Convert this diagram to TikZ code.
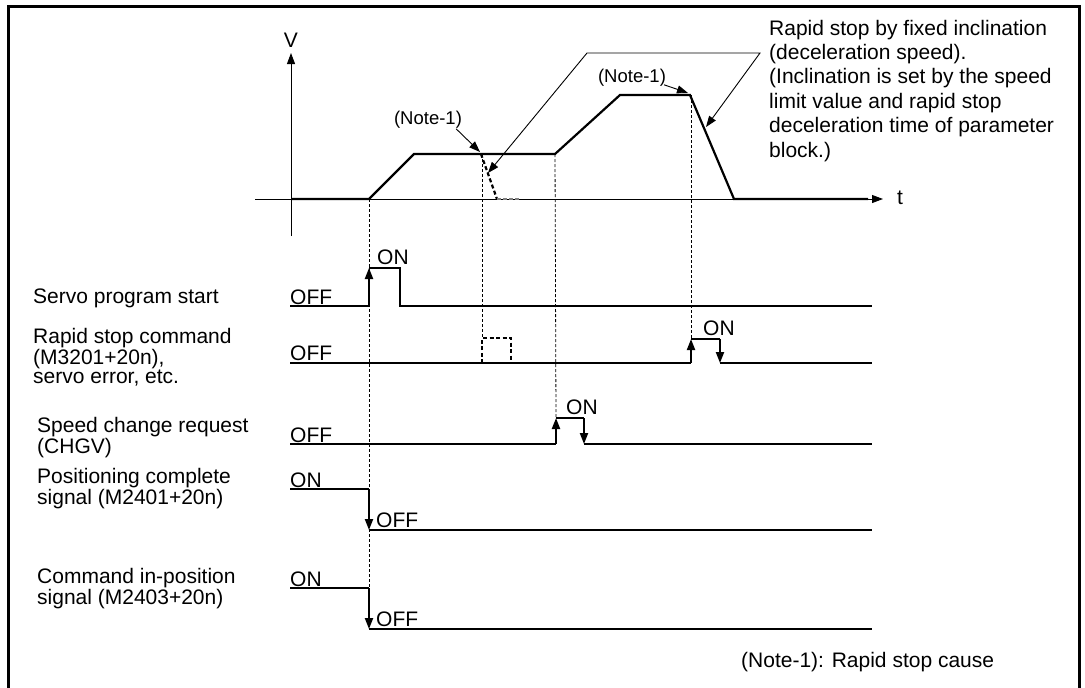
\documentclass[tikz,border=0pt]{standalone}
\usepackage{fontspec}
\setmainfont{Liberation Sans}
\usetikzlibrary{arrows.meta}
\begin{document}
\begin{tikzpicture}[x=1pt,y=-1pt,
  txt/.style={inner sep=0pt,anchor=base west,font=\fontsize{21}{19.8}\selectfont},
  para/.style={inner sep=0pt,anchor=base west,font=\fontsize{21}{24.4}\selectfont},
  note/.style={inner sep=0pt,font=\fontsize{18.5}{20}\selectfont},
  sig/.style={line width=2pt},
  thk/.style={line width=2.2pt},
  thn/.style={line width=0.9pt},
  guide/.style={line width=0.8pt,dash pattern=on 3pt off 2pt},
  tip/.style={-{Triangle[length=11pt,width=8pt]}},
  bitip/.style={{Triangle[length=11pt,width=8pt]}-{Triangle[length=11pt,width=8pt]}},
]
\useasboundingbox (0,0) rectangle (1085,688);
\draw[line width=3.5pt] (8.5,6.5) rectangle (1079.5,720);

% axes
\coordinate (vbot) at (291,236);
\coordinate (vtop) at (291,53);
\coordinate (tl) at (255,199);
\coordinate (tr) at (883,199);
\draw[thn,tip] (vbot) -- (vtop);
\draw[thn,tip] (tl) -- (tr);
\node[note,font=\fontsize{21}{20}\selectfont] (V) at (291,40) {V};
\node[note,font=\fontsize{21}{20}\selectfont] (t) at (900,198) {t};

% velocity profile
\coordinate (p0) at (291,199);
\coordinate (p1) at (369,199);
\coordinate (p2) at (414,154);
\coordinate (pn) at (481,154);
\coordinate (p3) at (555,154);
\coordinate (p4) at (620,95);
\coordinate (p5) at (690,95);
\coordinate (p6) at (734,199);
\coordinate (p7) at (868,199);
\draw[thk,line join=miter] (p0) -- (p1) -- (p2) -- (p3) -- (p4) -- (p5) -- (p6) -- (p7);
\coordinate (d1) at (497,199);
\coordinate (d2) at (519,199);
\draw[thk,dash pattern=on 4pt off 2.5pt] (pn) -- (d1);
\draw[line width=1.2pt,gray,dash pattern=on 4pt off 2pt] (d1) -- (d2);

% notes
\node[note] (n1) at (428,120) {(Note-1)};
\coordinate (n1t) at (480,152);
\draw[thn,tip] (n1.south east) ++(-6,0) -- (n1t);
\node[note] (n2) at (632,78) {(Note-1)};
\coordinate (n2t) at (688,93);
\draw[thn,tip] (n2.south east) ++(-2,-2) -- (n2t);

% callout
\coordinate (c1) at (488,173);
\coordinate (c2) at (587,53);
\coordinate (c3) at (760,53);
\coordinate (c4) at (706,127);
\draw[thn,bitip] (c1) -- (c2) -- (c3) -- (c4);
\node[para] (desc) at (769,35) {\begin{tabular}[t]{@{}l@{}}Rapid stop by fixed inclination\\(deceleration speed).\\(Inclination is set by the speed\\limit value and rapid stop\\deceleration time of parameter\\block.)\end{tabular}};

% guides
\draw[guide] (p1) -- (369,629);
\draw[guide] (482,154) -- (482,338);
\draw[guide] (p3) -- (556,418);
\draw[guide] (691,95) -- (691,339);

% signal labels
\node[txt] (l1) at (33,303) {Servo program start};
\node[txt] (l2) at (33,343) {\begin{tabular}[t]{@{}l@{}}Rapid stop command\\(M3201+20n),\\servo error, etc.\end{tabular}};
\node[txt] (l3) at (37,432) {\begin{tabular}[t]{@{}l@{}}Speed change request\\(CHGV)\end{tabular}};
\node[txt] (l4) at (37,483) {\begin{tabular}[t]{@{}l@{}}Positioning complete\\signal (M2401+20n)\end{tabular}};
\node[txt] (l5) at (37,583) {\begin{tabular}[t]{@{}l@{}}Command in-position\\signal (M2403+20n)\end{tabular}};

% servo program start
\node[txt] (s1off) at (290,304) {OFF};
\node[txt] (s1on) at (377,264) {ON};
\draw[sig] (290,306) -- (369,306);
\draw[sig,tip] (369,306) -- (369,268);
\draw[sig] (369,268) -- (400,268) -- (400,306) -- (872,306);

% rapid stop
\node[txt] (s2off) at (290,360) {OFF};
\node[txt] (s2on) at (703,335) {ON};
\draw[sig] (290,363) -- (691,363);
\draw[sig,dash pattern=on 4pt off 2.5pt] (482,363) -- (482,338) -- (511,338) -- (511,363);
\draw[sig,tip] (691,363) -- (691,339);
\draw[sig] (691,339) -- (720,339);
\draw[sig,tip] (720,339) -- (720,363);
\draw[sig] (720,363) -- (872,363);

% speed change
\node[txt] (s3off) at (290,442) {OFF};
\node[txt] (s3on) at (566,414) {ON};
\draw[sig] (290,444) -- (556,444);
\draw[sig,tip] (556,444) -- (556,418);
\draw[sig] (556,418) -- (584,418);
\draw[sig,tip] (584,418) -- (584,444);
\draw[sig] (584,444) -- (872,444);

% positioning complete
\node[txt] (s4on) at (290,487) {ON};
\node[txt] (s4off) at (376,527) {OFF};
\draw[sig] (290,489) -- (369,489);
\draw[sig,tip] (369,489) -- (369,530);
\draw[sig] (369,530) -- (872,530);

% command in-position
\node[txt] (s5on) at (290,586) {ON};
\node[txt] (s5off) at (376,626) {OFF};
\draw[sig] (290,588) -- (369,588);
\draw[sig,tip] (369,588) -- (369,629);
\draw[sig] (369,629) -- (872,629);

\node[txt] (foot) at (741,667) {(Note-1): Rapid stop cause};
\end{tikzpicture}
\end{document}
